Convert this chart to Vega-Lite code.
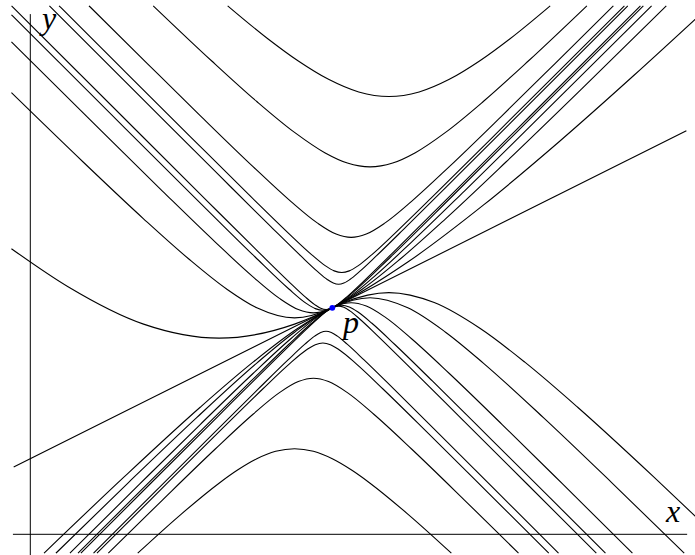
{
"$schema":"https://vega.github.io/schema/vega-lite/v6.json",
"width":695,"height":555,"autosize":"none","padding":0,
"config":{"view":{"stroke":null}},
"datasets":{
"axes":[{"x":-0.23,"x2":8.7,"y":0,"y2":0},{"x":0,"x2":0,"y":-0.3,"y2":6.89}],
"curves":[
{"c":"AU","x":2.614,"y":7.0},{"c":"AU","x":3.15,"y":6.561},{"c":"AU","x":3.55,"y":6.269},{"c":"AU","x":3.95,"y":6.026},{"c":"AU","x":4.35,"y":5.859},{"c":"AU","x":4.75,"y":5.799},{"c":"AU","x":5.15,"y":5.859},{"c":"AU","x":5.55,"y":6.026},{"c":"AU","x":5.95,"y":6.269},{"c":"AU","x":6.35,"y":6.561},{"c":"AU","x":6.886,"y":7.0},
{"c":"AD","x":0.181,"y":-0.25},{"c":"AD","x":1.25,"y":0.767},{"c":"AD","x":2.25,"y":1.683},{"c":"AD","x":2.95,"y":2.28},{"c":"AD","x":3.55,"y":2.732},{"c":"AD","x":4.15,"y":3.069},{"c":"AD","x":4.75,"y":3.201},{"c":"AD","x":5.35,"y":3.069},{"c":"AD","x":5.95,"y":2.732},{"c":"AD","x":6.55,"y":2.28},{"c":"AD","x":7.25,"y":1.683},{"c":"AD","x":8.25,"y":0.767},{"c":"AD","x":8.85,"y":0.199},
{"c":"BU","x":1.628,"y":7.0},{"c":"BU","x":2.4,"y":6.272},{"c":"BU","x":3.0,"y":5.732},{"c":"BU","x":3.5,"y":5.323},{"c":"BU","x":3.9,"y":5.054},{"c":"BU","x":4.2,"y":4.917},{"c":"BU","x":4.5,"y":4.866},{"c":"BU","x":4.8,"y":4.917},{"c":"BU","x":5.1,"y":5.054},{"c":"BU","x":5.5,"y":5.323},{"c":"BU","x":6.0,"y":5.732},{"c":"BU","x":6.6,"y":6.272},{"c":"BU","x":7.372,"y":7.0},
{"c":"BD","x":0.339,"y":-0.25},{"c":"BD","x":1.3,"y":0.685},{"c":"BD","x":2.2,"y":1.542},{"c":"BD","x":3.0,"y":2.268},{"c":"BD","x":3.5,"y":2.677},{"c":"BD","x":4.0,"y":3.0},{"c":"BD","x":4.5,"y":3.134},{"c":"BD","x":5.0,"y":3.0},{"c":"BD","x":5.5,"y":2.677},{"c":"BD","x":6.0,"y":2.268},{"c":"BD","x":6.8,"y":1.542},{"c":"BD","x":7.7,"y":0.685},{"c":"BD","x":8.661,"y":-0.25},
{"c":"CU","x":0.777,"y":7.0},{"c":"CU","x":1.55,"y":6.235},{"c":"CU","x":2.25,"y":5.546},{"c":"CU","x":2.95,"y":4.87},{"c":"CU","x":3.45,"y":4.41},{"c":"CU","x":3.8,"y":4.125},{"c":"CU","x":4.05,"y":3.977},{"c":"CU","x":4.25,"y":3.933},{"c":"CU","x":4.45,"y":3.977},{"c":"CU","x":4.7,"y":4.125},{"c":"CU","x":5.05,"y":4.41},{"c":"CU","x":5.55,"y":4.87},{"c":"CU","x":6.25,"y":5.546},{"c":"CU","x":6.95,"y":6.235},{"c":"CU","x":7.723,"y":7.0},
{"c":"CD","x":0.525,"y":-0.25},{"c":"CD","x":1.45,"y":0.667},{"c":"CD","x":2.25,"y":1.454},{"c":"CD","x":2.95,"y":2.13},{"c":"CD","x":3.45,"y":2.59},{"c":"CD","x":3.8,"y":2.876},{"c":"CD","x":4.05,"y":3.023},{"c":"CD","x":4.25,"y":3.067},{"c":"CD","x":4.45,"y":3.023},{"c":"CD","x":4.7,"y":2.876},{"c":"CD","x":5.05,"y":2.59},{"c":"CD","x":5.55,"y":2.13},{"c":"CD","x":6.25,"y":1.454},{"c":"CD","x":7.05,"y":0.667},{"c":"CD","x":7.975,"y":-0.25},
{"c":"DU","x":0.381,"y":7.0},{"c":"DU","x":1.225,"y":6.158},{"c":"DU","x":2.125,"y":5.262},{"c":"DU","x":2.925,"y":4.469},{"c":"DU","x":3.425,"y":3.983},{"c":"DU","x":3.725,"y":3.705},{"c":"DU","x":3.905,"y":3.559},{"c":"DU","x":4.025,"y":3.489},{"c":"DU","x":4.125,"y":3.467},{"c":"DU","x":4.225,"y":3.489},{"c":"DU","x":4.345,"y":3.559},{"c":"DU","x":4.525,"y":3.705},{"c":"DU","x":4.825,"y":3.983},{"c":"DU","x":5.325,"y":4.469},{"c":"DU","x":6.125,"y":5.262},{"c":"DU","x":7.025,"y":6.158},{"c":"DU","x":7.869,"y":7.0},
{"c":"DD","x":0.632,"y":-0.25},{"c":"DD","x":1.325,"y":0.442},{"c":"DD","x":2.125,"y":1.238},{"c":"DD","x":2.925,"y":2.031},{"c":"DD","x":3.425,"y":2.517},{"c":"DD","x":3.725,"y":2.795},{"c":"DD","x":3.905,"y":2.941},{"c":"DD","x":4.025,"y":3.012},{"c":"DD","x":4.125,"y":3.034},{"c":"DD","x":4.225,"y":3.012},{"c":"DD","x":4.345,"y":2.941},{"c":"DD","x":4.525,"y":2.795},{"c":"DD","x":4.825,"y":2.517},{"c":"DD","x":5.325,"y":2.031},{"c":"DD","x":6.125,"y":1.238},{"c":"DD","x":6.925,"y":0.442},{"c":"DD","x":7.618,"y":-0.25},
{"c":"EU","x":0.253,"y":7.0},{"c":"EU","x":1.483,"y":5.771},{"c":"EU","x":2.483,"y":4.773},{"c":"EU","x":3.183,"y":4.078},{"c":"EU","x":3.583,"y":3.687},{"c":"EU","x":3.803,"y":3.482},{"c":"EU","x":3.933,"y":3.375},{"c":"EU","x":4.013,"y":3.327},{"c":"EU","x":4.083,"y":3.311},{"c":"EU","x":4.153,"y":3.327},{"c":"EU","x":4.233,"y":3.375},{"c":"EU","x":4.363,"y":3.482},{"c":"EU","x":4.583,"y":3.687},{"c":"EU","x":4.983,"y":4.078},{"c":"EU","x":5.683,"y":4.773},{"c":"EU","x":6.683,"y":5.771},{"c":"EU","x":7.914,"y":7.0},
{"c":"ED","x":0.67,"y":-0.25},{"c":"ED","x":1.583,"y":0.663},{"c":"ED","x":2.483,"y":1.56},{"c":"ED","x":3.183,"y":2.255},{"c":"ED","x":3.583,"y":2.646},{"c":"ED","x":3.803,"y":2.852},{"c":"ED","x":3.933,"y":2.959},{"c":"ED","x":4.013,"y":3.006},{"c":"ED","x":4.083,"y":3.022},{"c":"ED","x":4.153,"y":3.006},{"c":"ED","x":4.233,"y":2.959},{"c":"ED","x":4.363,"y":2.852},{"c":"ED","x":4.583,"y":2.646},{"c":"ED","x":4.983,"y":2.255},{"c":"ED","x":5.683,"y":1.56},{"c":"ED","x":6.583,"y":0.663},{"c":"ED","x":7.497,"y":-0.25},
{"c":"FU","x":-0.248,"y":7.0},{"c":"FU","x":1.217,"y":5.537},{"c":"FU","x":2.317,"y":4.44},{"c":"FU","x":3.017,"y":3.745},{"c":"FU","x":3.417,"y":3.354},{"c":"FU","x":3.637,"y":3.148},{"c":"FU","x":3.767,"y":3.042},{"c":"FU","x":3.847,"y":2.994},{"c":"FU","x":3.917,"y":2.978},{"c":"FU","x":3.987,"y":2.994},{"c":"FU","x":4.067,"y":3.042},{"c":"FU","x":4.197,"y":3.148},{"c":"FU","x":4.417,"y":3.354},{"c":"FU","x":4.817,"y":3.745},{"c":"FU","x":5.517,"y":4.44},{"c":"FU","x":6.617,"y":5.537},{"c":"FU","x":8.081,"y":7.0},
{"c":"FD","x":0.837,"y":-0.25},{"c":"FD","x":1.617,"y":0.529},{"c":"FD","x":2.417,"y":1.326},{"c":"FD","x":3.017,"y":1.922},{"c":"FD","x":3.417,"y":2.313},{"c":"FD","x":3.637,"y":2.518},{"c":"FD","x":3.767,"y":2.625},{"c":"FD","x":3.847,"y":2.673},{"c":"FD","x":3.917,"y":2.689},{"c":"FD","x":3.987,"y":2.673},{"c":"FD","x":4.067,"y":2.625},{"c":"FD","x":4.197,"y":2.518},{"c":"FD","x":4.417,"y":2.313},{"c":"FD","x":4.817,"y":1.922},{"c":"FD","x":5.417,"y":1.326},{"c":"FD","x":6.217,"y":0.529},{"c":"FD","x":6.997,"y":-0.25},
{"c":"GU","x":-0.25,"y":6.881},{"c":"GU","x":1.075,"y":5.558},{"c":"GU","x":2.175,"y":4.464},{"c":"GU","x":2.975,"y":3.676},{"c":"GU","x":3.425,"y":3.249},{"c":"GU","x":3.655,"y":3.059},{"c":"GU","x":3.775,"y":2.989},{"c":"GU","x":3.875,"y":2.967},{"c":"GU","x":3.975,"y":2.989},{"c":"GU","x":4.095,"y":3.059},{"c":"GU","x":4.325,"y":3.249},{"c":"GU","x":4.775,"y":3.676},{"c":"GU","x":5.575,"y":4.464},{"c":"GU","x":6.675,"y":5.558},{"c":"GU","x":8.12,"y":7.0},
{"c":"GD","x":0.883,"y":-0.25},{"c":"GD","x":1.675,"y":0.539},{"c":"GD","x":2.475,"y":1.333},{"c":"GD","x":3.075,"y":1.921},{"c":"GD","x":3.425,"y":2.251},{"c":"GD","x":3.655,"y":2.441},{"c":"GD","x":3.775,"y":2.512},{"c":"GD","x":3.875,"y":2.534},{"c":"GD","x":3.975,"y":2.512},{"c":"GD","x":4.095,"y":2.441},{"c":"GD","x":4.325,"y":2.251},{"c":"GD","x":4.675,"y":1.921},{"c":"GD","x":5.275,"y":1.333},{"c":"GD","x":6.075,"y":0.539},{"c":"GD","x":6.867,"y":-0.25},
{"c":"HU","x":-0.25,"y":6.523},{"c":"HU","x":0.75,"y":5.531},{"c":"HU","x":1.75,"y":4.546},{"c":"HU","x":2.45,"y":3.87},{"c":"HU","x":2.95,"y":3.41},{"c":"HU","x":3.3,"y":3.125},{"c":"HU","x":3.55,"y":2.977},{"c":"HU","x":3.75,"y":2.933},{"c":"HU","x":3.95,"y":2.977},{"c":"HU","x":4.2,"y":3.125},{"c":"HU","x":4.55,"y":3.41},{"c":"HU","x":5.05,"y":3.87},{"c":"HU","x":5.75,"y":4.546},{"c":"HU","x":6.75,"y":5.531},{"c":"HU","x":8.229,"y":7.0},
{"c":"HD","x":1.034,"y":-0.25},{"c":"HD","x":1.75,"y":0.454},{"c":"HD","x":2.45,"y":1.13},{"c":"HD","x":2.95,"y":1.59},{"c":"HD","x":3.3,"y":1.876},{"c":"HD","x":3.55,"y":2.023},{"c":"HD","x":3.75,"y":2.067},{"c":"HD","x":3.95,"y":2.023},{"c":"HD","x":4.2,"y":1.876},{"c":"HD","x":4.55,"y":1.59},{"c":"HD","x":5.05,"y":1.13},{"c":"HD","x":5.75,"y":0.454},{"c":"HD","x":6.466,"y":-0.25},
{"c":"IU","x":-0.25,"y":5.849},{"c":"IU","x":0.7,"y":4.931},{"c":"IU","x":1.5,"y":4.179},{"c":"IU","x":2.1,"y":3.646},{"c":"IU","x":2.6,"y":3.249},{"c":"IU","x":3.0,"y":3.0},{"c":"IU","x":3.5,"y":2.866},{"c":"IU","x":4.0,"y":3.0},{"c":"IU","x":4.4,"y":3.249},{"c":"IU","x":4.9,"y":3.646},{"c":"IU","x":5.5,"y":4.179},{"c":"IU","x":6.3,"y":4.931},{"c":"IU","x":7.3,"y":5.897},{"c":"IU","x":8.424,"y":7.0},
{"c":"ID","x":1.423,"y":-0.25},{"c":"ID","x":2.0,"y":0.268},{"c":"ID","x":2.5,"y":0.677},{"c":"ID","x":2.75,"y":0.854},{"c":"ID","x":3.0,"y":1.0},{"c":"ID","x":3.25,"y":1.099},{"c":"ID","x":3.5,"y":1.134},{"c":"ID","x":3.75,"y":1.099},{"c":"ID","x":4.0,"y":1.0},{"c":"ID","x":4.25,"y":0.854},{"c":"ID","x":4.5,"y":0.677},{"c":"ID","x":5.0,"y":0.268},{"c":"ID","x":5.577,"y":-0.25},
{"c":"JU","x":-0.25,"y":3.783},{"c":"JU","x":0.5,"y":3.279},{"c":"JU","x":1.5,"y":2.784},{"c":"JU","x":2.5,"y":2.598},{"c":"JU","x":3.5,"y":2.784},{"c":"JU","x":4.0,"y":3.0},{"c":"JU","x":5.0,"y":3.606},{"c":"JU","x":6.0,"y":4.359},{"c":"JU","x":7.0,"y":5.196},{"c":"JU","x":8.0,"y":6.083},{"c":"JU","x":8.85,"y":6.861},
{"c":"L","x":-0.22,"y":0.89},{"c":"L","x":8.69,"y":5.345}
],
"pt":[{"x":4,"y":3}],
"labels":[{"x":8.513,"y":0.163,"t":"x"},{"x":0.25,"y":6.693,"t":"y"},{"x":4.248,"y":2.666,"t":"p"}]
},
"layer":[
{"data":{"name":"axes"},"mark":{"type":"rule","color":"black","strokeWidth":1},
 "encoding":{"x":{"field":"x","type":"quantitative","scale":{"domain":[-0.4013,8.804],"nice":false,"zero":false},"axis":null},
 "x2":{"field":"x2"},
 "y":{"field":"y","type":"quantitative","scale":{"domain":[-0.2742,7.0768],"nice":false,"zero":false},"axis":null},
 "y2":{"field":"y2"}}},
{"data":{"name":"curves"},"mark":{"type":"line","color":"black","strokeWidth":1.1,"interpolate":"monotone","clip":true},
 "encoding":{"x":{"field":"x","type":"quantitative","scale":{"domain":[-0.4013,8.804],"nice":false,"zero":false},"axis":null},
 "y":{"field":"y","type":"quantitative","scale":{"domain":[-0.2742,7.0768],"nice":false,"zero":false},"axis":null},
 "detail":{"field":"c","type":"nominal"}}},
{"data":{"name":"pt"},"mark":{"type":"point","filled":true,"color":"#0000ff","size":34,"opacity":1},
 "encoding":{"x":{"field":"x","type":"quantitative","scale":{"domain":[-0.4013,8.804],"nice":false,"zero":false},"axis":null},
 "y":{"field":"y","type":"quantitative","scale":{"domain":[-0.2742,7.0768],"nice":false,"zero":false},"axis":null}}},
{"data":{"name":"labels"},"mark":{"type":"text","font":"Liberation Serif","fontStyle":"italic","fontSize":32,"align":"center","baseline":"alphabetic","color":"black"},
 "encoding":{"x":{"field":"x","type":"quantitative","scale":{"domain":[-0.4013,8.804],"nice":false,"zero":false},"axis":null},
 "y":{"field":"y","type":"quantitative","scale":{"domain":[-0.2742,7.0768],"nice":false,"zero":false},"axis":null},
 "text":{"field":"t","type":"nominal"}}}
]
}
